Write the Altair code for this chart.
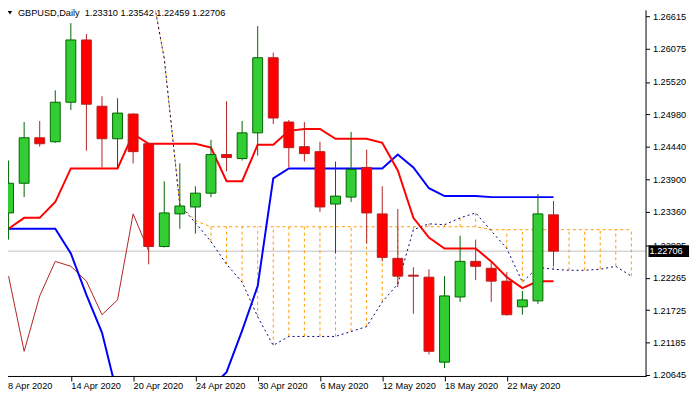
import altair as alt
import pandas as pd

# ---- data ----
opens = [1.23342, 1.23836, 1.24592, 1.24526, 1.25184, 1.26220, 1.25118, 1.24576, 1.24987, 1.24493,
         1.22783, 1.23326, 1.23441, 1.23671, 1.24313, 1.24247, 1.24674, 1.25924, 1.24855, 1.24444,
         1.24362, 1.23490, 1.23605, 1.24099, 1.23326, 1.22586, 1.22306, 1.22273, 1.20859, 1.21944,
         1.22536, 1.22421, 1.22207, 1.21780, 1.21879, 1.23310]
highs = [1.24214, 1.24855, 1.24872, 1.25382, 1.26500, 1.26319, 1.25283, 1.25250, 1.25003, 1.24510,
         1.23869, 1.24165, 1.23786, 1.24559, 1.25201, 1.24872, 1.26451, 1.26007, 1.24888, 1.24855,
         1.24526, 1.24197, 1.24691, 1.24395, 1.23786, 1.23408, 1.22438, 1.22405, 1.22290, 1.22964,
         1.22898, 1.22520, 1.22355, 1.22043, 1.23655, 1.23542]
lows = [1.22898, 1.23605, 1.24444, 1.24510, 1.25053, 1.24378, 1.24099, 1.24082, 1.24165, 1.22487,
        1.22767, 1.23079, 1.22997, 1.23605, 1.24033, 1.24214, 1.24296, 1.24822, 1.24099, 1.24197,
        1.23359, 1.22668, 1.23523, 1.22832, 1.22536, 1.22109, 1.21665, 1.20987, 1.20760, 1.21862,
        1.22224, 1.21862, 1.21632, 1.21648, 1.21829, 1.22459]
closes = [1.23836, 1.24592, 1.24493, 1.25184, 1.26220, 1.25151, 1.24576, 1.25003, 1.24362, 1.22783,
          1.23342, 1.23457, 1.23671, 1.24313, 1.24263, 1.24674, 1.25924, 1.24921, 1.24428, 1.24329,
          1.23441, 1.23622, 1.24066, 1.23342, 1.22602, 1.22290, 1.22290, 1.21040, 1.21961, 1.22536,
          1.22454, 1.22207, 1.21648, 1.21895, 1.23326, 1.22706]

tenkan = [1.23079, 1.23260, 1.23260, 1.23523, 1.24082, 1.24082, 1.24082, 1.24082, 1.24658, 1.24493,
          1.24493, 1.24493, 1.24493, 1.24428, 1.23869, 1.23869, 1.24477, 1.24477, 1.24707, 1.24740,
          1.24740, 1.24576, 1.24576, 1.24576, 1.24510, 1.24049, 1.23260, 1.22931, 1.22750, 1.22750,
          1.22750, 1.22536, 1.22273, 1.22092, 1.22207, 1.22207]
kijun = [1.23079, 1.23079, 1.23079, 1.23079, 1.22668, 1.21977, 1.21352, 1.20300, 1.20218, 1.20316,
         1.20283, 1.20283, 1.20283, 1.20431, 1.20694, 1.21385, 1.22125, 1.23918, 1.24082, 1.24082,
         1.24082, 1.24082, 1.24082, 1.24082, 1.24082, 1.24313, 1.24099, 1.23753, 1.23622, 1.23622,
         1.23622, 1.23605, 1.23605, 1.23605, 1.23605, 1.23605]

span_start = 9
span_a = [1.27322, 1.25908, 1.23474, 1.23178, 1.22865, 1.22487, 1.22191, 1.21615, 1.21138, 1.21287,
          1.21287, 1.21287, 1.21287, 1.21369, 1.21451, 1.21862, 1.22158, 1.23063, 1.23161, 1.23145,
          1.23260, 1.23342, 1.23046, 1.22750, 1.22191, 1.22438, 1.22405, 1.22388, 1.22388, 1.22405,
          1.22454, 1.22290]
span_b = [1.27322, 1.25908, 1.23474, 1.23211] + [1.23112] * 18 + [1.23063] * 10

chikou_shift = 26

date_ticks = [0, 4, 8, 12, 16, 20, 24, 28, 32]
date_labels = ["8 Apr 2020", "14 Apr 2020", "20 Apr 2020", "24 Apr 2020", "30 Apr 2020",
               "6 May 2020", "12 May 2020", "18 May 2020", "22 May 2020"]
price_ticks = [1.26615, 1.26075, 1.25520, 1.24980, 1.24440, 1.23900, 1.23360, 1.22805,
               1.22265, 1.21725, 1.21185, 1.20645]
title_text = "GBPUSD,Daily\u00a0\u00a01.23310 1.23542 1.22459 1.22706"
last_price = 1.22706

# ---- tables ----
n = len(closes)
candles = pd.DataFrame({
    "i": list(range(n)), "o": opens, "h": highs, "l": lows, "c": closes,
})
candles["dir"] = ["up" if c >= o else "down" for o, c in zip(opens, closes)]

lines = pd.DataFrame({"i": list(range(n)), "tenkan": tenkan, "kijun": kijun})
chikou = pd.DataFrame({"i": list(range(n - chikou_shift)), "v": closes[chikou_shift:]})
spans = pd.DataFrame({"i": list(range(span_start, span_start + len(span_a))),
                      "a": span_a, "b": span_b})
cloud = spans[spans["i"] >= 12]

FONT = "Liberation Sans"
FS = 9.3
W, H = 645, 370

axis_ticks = date_ticks[1:]
label_expr = " : ".join(
    f"datum.value == {t} ? '{l}'" for t, l in zip(date_ticks, date_labels)
) + " : ''"

xscale = alt.Scale(domain=[0.28125, 0.28125 + W / 16], nice=False, zero=False)
yscale = alt.Scale(domain=[1.20629, 1.26714], nice=False, zero=False)

Xax = alt.Axis(values=axis_ticks, labelExpr=label_expr, labelAlign="left",
               labelBaseline="top", labelPadding=1, tickSize=5, tickColor="black",
               domain=False, grid=False, title=None, labelFlush=False,
               labelOverlap=False, labelFont=FONT, labelFontSize=FS,
               labelColor="black")
Yax = alt.Axis(orient="right", values=price_ticks, format=".5f", tickSize=4,
               tickColor="black", labelPadding=3, domain=False, grid=False, title=None,
               labelFont=FONT, labelFontSize=FS, labelColor="black", labelOverlap=False,
               labelFlush=False, labelBaseline="middle")


def X():
    return alt.X("i:Q", scale=xscale, axis=Xax)


def Y(field):
    return alt.Y(field, scale=yscale, axis=Yax)


price_line = alt.Chart(pd.DataFrame({"p": [last_price]})).mark_rule(
    color="#c0c0c0", strokeWidth=1).encode(y=Y("p:Q"))

cloud_rules = alt.Chart(cloud).mark_rule(
    color="#ff9900", strokeWidth=1, strokeDash=[3, 3], clip=True).encode(
    x=X(), y=Y("a:Q"), y2="b:Q")

span_b_line = alt.Chart(spans).mark_line(
    color="#ff9900", strokeWidth=1, strokeDash=[3, 3], clip=True).encode(
    x=X(), y=Y("b:Q"))
span_a_line = alt.Chart(spans).mark_line(
    color="#000080", strokeWidth=1, strokeDash=[2, 3], clip=True).encode(
    x=X(), y=Y("a:Q"))

chikou_line = alt.Chart(chikou).mark_line(
    color="#b22222", strokeWidth=1, clip=True).encode(x=X(), y=Y("v:Q"))

kijun_line = alt.Chart(lines).mark_line(color="#0000ff", strokeWidth=2, clip=True).encode(
    x=X(), y=Y("kijun:Q"))
tenkan_line = alt.Chart(lines).mark_line(color="#ff0000", strokeWidth=2, clip=True).encode(
    x=X(), y=Y("tenkan:Q"))

dir_dom = ["up", "down"]
wicks = alt.Chart(candles).mark_rule(strokeWidth=1, clip=True).encode(
    x=X(), y=Y("l:Q"), y2="h:Q",
    color=alt.Color("dir:N", scale=alt.Scale(domain=dir_dom, range=["#006400", "#b22222"]),
                    legend=None))
bodies = alt.Chart(candles).mark_bar(size=10, strokeWidth=1, clip=True).encode(
    x=X(), y=Y("o:Q"), y2="c:Q",
    fill=alt.Fill("dir:N", scale=alt.Scale(domain=dir_dom, range=["#32cd32", "#ff0000"]),
                  legend=None),
    stroke=alt.Stroke("dir:N", scale=alt.Scale(domain=dir_dom, range=["#006400", "#b22222"]),
                      legend=None))

# plot frame (right and bottom edges)
frame_r = alt.Chart(pd.DataFrame({"k": [0]})).mark_rule(color="black", strokeWidth=1).encode(
    x=alt.value(W + 0.5), y=alt.value(0), y2=alt.value(H + 1))
frame_b = alt.Chart(pd.DataFrame({"k": [0]})).mark_rule(color="black", strokeWidth=1).encode(
    y=alt.value(H + 0.5), x=alt.value(0), x2=alt.value(W + 1))

first_label = alt.Chart(pd.DataFrame({"t": [date_labels[0]]})).mark_text(
    align="left", baseline="top", font=FONT, fontSize=FS, color="black").encode(
    x=alt.value(0), y=alt.value(H + 6), text="t:N")

title = alt.Chart(pd.DataFrame({"t": [title_text]})).mark_text(
    align="left", baseline="alphabetic", font=FONT, fontSize=FS, color="black").encode(
    x=alt.value(10), y=alt.value(6), text="t:N")
tri = alt.Chart(pd.DataFrame({"k": [0]})).mark_point(
    shape="triangle-down", filled=True, color="black", opacity=1, size=18).encode(
    x=alt.value(2), y=alt.value(2.5))

box_df = pd.DataFrame({"p": [last_price], "lo": [last_price - 0.00099],
                       "hi": [last_price + 0.00099], "t": ["1.22706"]})
price_box = alt.Chart(box_df).mark_rect(color="black").encode(
    x=alt.value(W + 3), x2=alt.value(W + 44), y=Y("lo:Q"), y2="hi:Q")
price_txt = alt.Chart(box_df).mark_text(
    align="left", baseline="middle", font=FONT, fontSize=FS, color="white").encode(
    x=alt.value(W + 4), y=Y("p:Q"), text="t:N")

chart = alt.layer(
    price_line, cloud_rules, span_b_line, span_a_line, chikou_line, kijun_line, tenkan_line,
    wicks, bodies, frame_r, frame_b, first_label, title, tri, price_box, price_txt
).properties(
    width=W, height=H,
    padding={"left": 0, "top": 0, "right": 47, "bottom": 22},
    autosize=alt.AutoSizeParams(type="none"),
    background="white",
).configure_view(stroke=None)

chart.save("out.html", embed_options={"renderer": "svg", "actions": False})
